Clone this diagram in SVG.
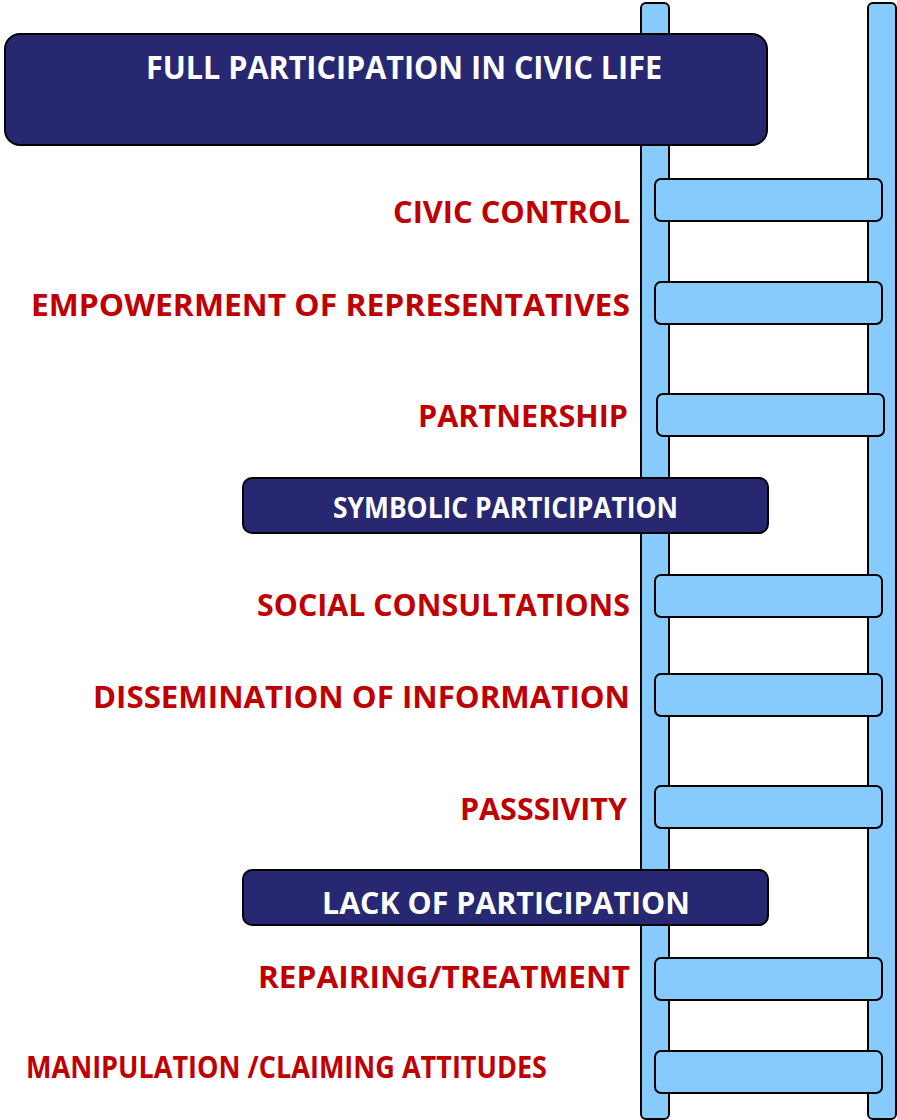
<svg xmlns="http://www.w3.org/2000/svg" width="897" height="1120" viewBox="0 0 897 1120">
<style>
.rail{fill:#87CAFE;stroke:#000;stroke-width:2}
.rung{fill:#87CAFE;stroke:#000;stroke-width:2}
.box{fill:#282872;stroke:#000;stroke-width:2}
.lbl{font-family:"Open Sans","Liberation Sans",sans-serif;font-weight:bold;fill:#C00000;font-size:31px}
.hdr{font-family:"Open Sans","Liberation Sans",sans-serif;font-weight:bold;fill:#FFFFFF}
</style>
<rect width="897" height="1120" fill="#FFFFFF"/>
<g id="ladder">
<rect class="rail" x="641" y="3" width="28" height="1116" rx="5"/>
<rect class="rail" x="868" y="3" width="28" height="1116" rx="5"/>
</g>
<g id="rungs">
<rect class="rung" x="655" y="179" width="227" height="42" rx="6"/>
<rect class="rung" x="655" y="282" width="227" height="42" rx="6"/>
<rect class="rung" x="657" y="394" width="227" height="42" rx="6"/>
<rect class="rung" x="655" y="575" width="227" height="42" rx="6"/>
<rect class="rung" x="655" y="674" width="227" height="42" rx="6"/>
<rect class="rung" x="655" y="786" width="227" height="42" rx="6"/>
<rect class="rung" x="655" y="958" width="227" height="42" rx="6"/>
<rect class="rung" x="655" y="1051" width="227" height="42" rx="6"/>
</g>
<g id="full-participation">
<rect class="box" x="5" y="34" width="762" height="111" rx="15"/>
<text class="hdr" x="146" y="79" font-size="32" textLength="516" lengthAdjust="spacingAndGlyphs">FULL PARTICIPATION IN CIVIC LIFE</text>
</g>
<g id="symbolic-participation">
<rect class="box" x="243" y="478" width="525" height="55" rx="9"/>
<text class="hdr" x="333" y="518" font-size="28" textLength="345" lengthAdjust="spacingAndGlyphs">SYMBOLIC PARTICIPATION</text>
</g>
<g id="lack-of-participation">
<rect class="box" x="243" y="870" width="525" height="55" rx="9"/>
<text class="hdr" x="322" y="914" font-size="31" textLength="368" lengthAdjust="spacingAndGlyphs">LACK OF PARTICIPATION</text>
</g>
<g id="civic-control"><text class="lbl" x="393" y="223" textLength="237" lengthAdjust="spacingAndGlyphs">CIVIC CONTROL</text></g>
<g id="empowerment"><text class="lbl" x="31" y="316" textLength="599" lengthAdjust="spacingAndGlyphs">EMPOWERMENT OF REPRESENTATIVES</text></g>
<g id="partnership"><text class="lbl" x="418" y="427" textLength="210" lengthAdjust="spacingAndGlyphs">PARTNERSHIP</text></g>
<g id="social-consultations"><text class="lbl" x="257" y="616" textLength="373" lengthAdjust="spacingAndGlyphs">SOCIAL CONSULTATIONS</text></g>
<g id="dissemination"><text class="lbl" x="93" y="708" textLength="537" lengthAdjust="spacingAndGlyphs">DISSEMINATION OF INFORMATION</text></g>
<g id="passivity"><text class="lbl" x="460" y="820" textLength="167" lengthAdjust="spacingAndGlyphs">PASSSIVITY</text></g>
<g id="repairing"><text class="lbl" x="258" y="988" textLength="372" lengthAdjust="spacingAndGlyphs">REPAIRING/TREATMENT</text></g>
<g id="manipulation"><text class="lbl" x="26" y="1078" font-size="27" textLength="521" lengthAdjust="spacingAndGlyphs">MANIPULATION /CLAIMING ATTITUDES</text></g>
</svg>
